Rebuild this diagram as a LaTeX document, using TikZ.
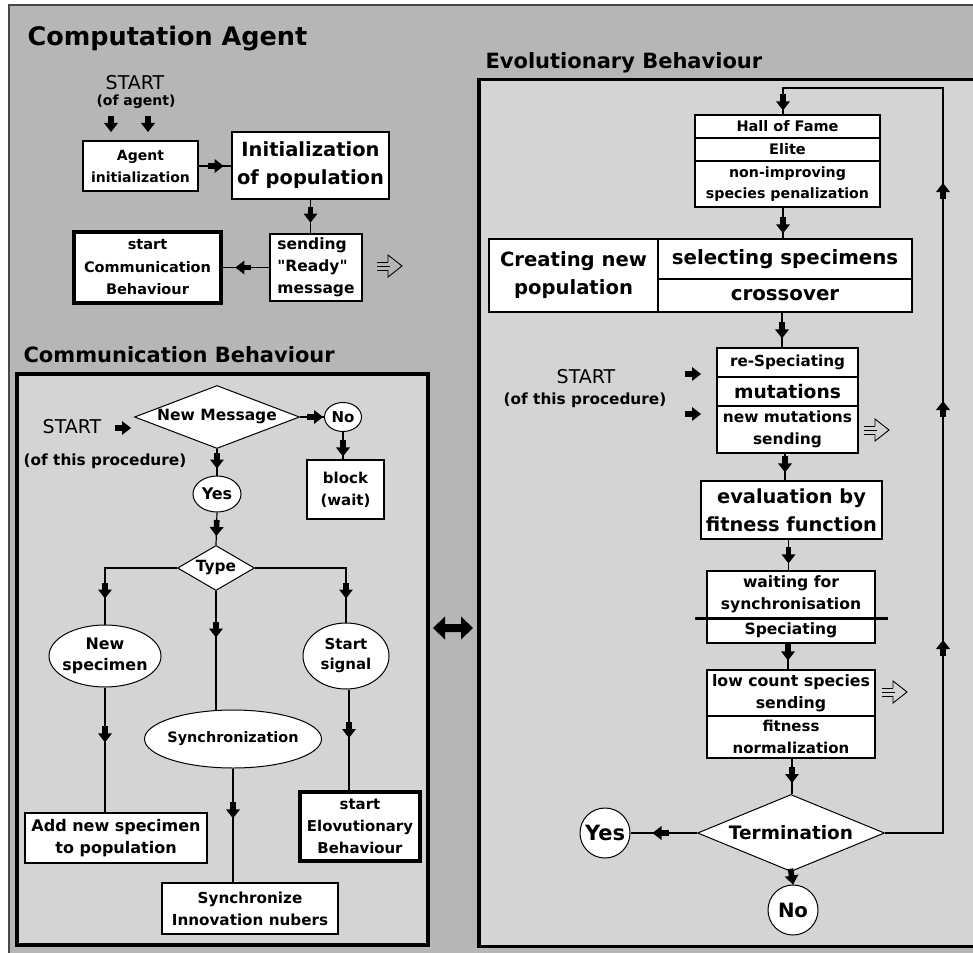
\documentclass[tikz,border=0pt]{standalone}
\usepackage{fontspec}
\setmainfont{DejaVu Sans}[Ligatures=TeXOff]
\usetikzlibrary{shapes.geometric,decorations.markings}

\definecolor{outerbg}{HTML}{B6B6B6}
\definecolor{panelbg}{HTML}{D4D4D4}
\definecolor{framegray}{HTML}{474747}

% small filled flow arrow, tip at the origin, pointing along +x
\newcommand{\flowhead}{\fill (1,0) -- (-8,-7) -- (-8,7) -- cycle; \fill (-15,-2.8) rectangle (-7.5,2.8);}

\tikzset{
  fb/.style 2 args={font=\fontsize{#1}{#2}\selectfont\bfseries},
  fr/.style 2 args={font=\fontsize{#1}{#2}\selectfont},
  box/.style={draw, fill=white, line width=1.2pt, inner sep=0pt, align=center},
  thickbox/.style={box, line width=4pt},
  shapebox/.style={draw, fill=white, line width=1pt, inner sep=0pt},
  conn/.style={line width=1.2pt},
  headat/.style={postaction={decorate,decoration={markings,mark=at position #1 with {\flowhead}}}},
  headglyph/.pic={\flowhead},
  sendmark/.pic={
    \draw[line width=0.9pt] (0,-4) -- (11,-4) (0,0) -- (13,0) (0,4) -- (11,4);
    \draw[line width=0.9pt, line join=miter] (11,-4) -- (11,-11) -- (25,0) -- (11,11) -- (11,4);
  },
  paneltitle/.style={fb={21}{25}, anchor=base west},
}

\begin{document}
\begin{tikzpicture}[x=1pt,y=-1pt]
\useasboundingbox (0,0) rectangle (973,952);
\clip (0,0) rectangle (973,952);
\fill[white] (0,0) rectangle (973,952);
\draw[framegray, line width=2pt, fill=outerbg] (9,5) rectangle (990,970);

% panels
\draw[line width=3.5pt, fill=panelbg] (17,374) rectangle (428,945);
\draw[line width=3.5pt, fill=panelbg] (479,79.5) rectangle (995,946.5);

% titles
\node[fb={25.5}{30}, anchor=base west] (agenttitle) at (24,46) {Computation Agent};
\node[paneltitle] (commtitle) at (20,362) {Communication Behaviour};
\node[paneltitle] (evotitle) at (482,69) {Evolutionary Behaviour};

% ---------------- agent start-up ----------------
\node[fr={19}{22}, anchor=base] (startA) at (135,90) {START};
\node[fb={14}{18}, anchor=base] (startAsub) at (136,106) {(of agent)};
\pic[rotate=-90] at (111,131) {headglyph};
\pic[rotate=-90] at (148,131) {headglyph};

\node[box, minimum width=115pt, minimum height=50pt, fb={14}{22}] (agentinit) at (140.5,166) {Agent\\initialization};
\node[box, minimum width=157pt, minimum height=67pt, fb={19.5}{28}] (initpop) at (310.5,165.5) {Initialization\\of population};
\node[box, minimum width=92pt, minimum height=67pt, fb={15.5}{22}, align=left] (sending) at (316,267.5) {sending\\"Ready"\\message};
\node[thickbox, minimum width=147pt, minimum height=71pt, fb={14.5}{22.5}] (startcomm) at (147.5,267.5) {start\\Communication\\Behaviour};
\pic at (377,266) {sendmark};

\draw[conn, headat=24pt] (agentinit.east) -- (agentinit.east -| initpop.west);
\draw[conn, headat=22pt] (initpop.south) -- (initpop.south |- sending.north);
\draw[conn, headat=33pt] (sending.west) -- (sending.west -| startcomm.east);

% ---------------- communication behaviour ----------------
\node[fr={19}{22}, anchor=base] (startC) at (72,433) {START};
\node[fb={15.3}{19}, anchor=base] (startCsub) at (105,465) {(of this procedure)};
\pic at (130,428) {headglyph};

\node[diamond, shapebox, minimum width=165pt, minimum height=63pt,
      label={[fb={15.5}{19}]center:New Message}] (newmsg) at (217,417) {};
\node[ellipse, shapebox, minimum width=37pt, minimum height=29pt,
      label={[fb={15}{18}]center:No}] (no1) at (343,417) {};
\node[box, minimum width=77pt, minimum height=59pt, fb={15}{22}] (block) at (345.5,489.5) {block\\(wait)};
\node[ellipse, shapebox, minimum width=48pt, minimum height=36pt,
      label={[fb={16}{19}]center:Yes}] (yes1) at (217,494) {};
\node[diamond, shapebox, minimum width=77pt, minimum height=45pt,
      label={[fb={15.4}{19}]center:Type}] (type) at (216,568) {};
\node[ellipse, shapebox, minimum width=112pt, minimum height=62pt,
      label={[fb={15.9}{21}, align=center]center:New\\specimen}] (newspec) at (105,656) {};
\node[ellipse, shapebox, minimum width=86pt, minimum height=66pt,
      label={[fb={15}{20}, align=center]center:Start\\signal}] (startsig) at (346,656) {};
\node[ellipse, shapebox, minimum width=177pt, minimum height=58pt,
      label={[fb={14.4}{18}]center:Synchronization}] (synchro) at (233,739) {};
\node[box, minimum width=182pt, minimum height=50pt, fb={16}{22}] (addnew) at (116,838) {Add new specimen\\to population};
\node[box, minimum width=176pt, minimum height=51pt, fb={15.2}{22}] (syncinno) at (250,908.5) {Synchronize\\Innovation nubers};
\node[thickbox, minimum width=120pt, minimum height=69pt, fb={14.9}{22}] (startevo) at (360,826.5) {start\\Elovutionary\\Behaviour};

\draw[conn, headat=-2pt] (newmsg.east) -- (no1.west);
\draw[conn, headat=-4pt] (no1.south) -- (no1.south |- block.north);
\draw[conn, headat=-8pt] (newmsg.south) -- (yes1.north);
\draw[conn, headat=-10pt] (yes1.south) -- (type.north);
\draw[conn, headat=-27pt] (type.west) -| (newspec.north);
\draw[conn, headat=-25pt] (type.east) -| (startsig.north);
\draw[conn, headat=-73pt] (type.south) -- (type.south |- synchro.north);
\draw[conn, headat=-71pt] (newspec.south) -- (newspec.south |- addnew.north);
\draw[conn, headat=-65pt] (synchro.south) -- (synchro.south |- syncinno.north);
\draw[conn, headat=-53pt] ([xshift=3pt]startsig.south) -- ([xshift=3pt]startsig.south |- startevo.north);

% link between the two behaviours
\fill (433,628) -- (445,616.5) -- (445,624) -- (461,624) -- (461,616.5) -- (473,628)
      -- (461,639.5) -- (461,632) -- (445,632) -- (445,639.5) -- cycle;

% ---------------- evolutionary behaviour ----------------
\coordinate (spine) at (783,0);
\coordinate (loopcorner) at (943,88);

\node[box, minimum width=185pt, minimum height=23pt, fb={14.5}{20}] (hof1) at (787.5,126.5) {Hall of Fame};
\node[box, minimum width=185pt, minimum height=23pt, fb={14.5}{20}] (hof2) at (787.5,149.5) {Elite};
\node[box, minimum width=185pt, minimum height=46pt, fb={14.2}{21}] (hof3) at (787.5,184) {non-improving\\species penalization};

\node[box, minimum width=169pt, minimum height=73pt, fb={19.6}{28}, line width=1.6pt] (creating) at (573.5,275.5) {Creating new\\population};
\node[box, minimum width=254pt, minimum height=40pt, fb={19.8}{24}] (select) at (785,259) {selecting specimens};
\node[box, minimum width=254pt, minimum height=33pt, fb={19.8}{24}] (crossover) at (785,295.5) {crossover};

\node[fr={19}{22}, anchor=base] (startE) at (586,383) {START};
\node[fb={15.3}{19}, anchor=base] (startEsub) at (585,404) {(of this procedure)};
\pic at (700,374) {headglyph};
\pic at (700,414) {headglyph};

\node[box, minimum width=141pt, minimum height=29pt, fb={15.2}{20}] (resp) at (787.5,362.5) {re-Speciating};
\node[box, minimum width=141pt, minimum height=29pt, fb={18.7}{22}] (mut) at (787.5,391.5) {mutations};
\node[box, minimum width=141pt, minimum height=47pt, fb={15.4}{22}] (nms) at (787.5,429.5) {new mutations\\sending};
\pic at (864,430) {sendmark};

\node[box, minimum width=181pt, minimum height=58pt, fb={19.4}{28}] (eval) at (791.5,510) {evaluation by\\fitness function};

\node[box, minimum width=168pt, minimum height=47pt, fb={15.6}{22}] (waitu) at (791,594.5) {waiting for\\synchronisation};
\node[box, minimum width=168pt, minimum height=25pt, fb={15.5}{20}] (spec) at (791,630.5) {Speciating};
\draw[line width=2.8pt] ([xshift=-11pt]waitu.south west) -- ([xshift=12pt]waitu.south east);

\node[box, minimum width=168pt, minimum height=46pt, fb={15.75}{22}] (low) at (791,693) {low count species\\sending};
\node[box, minimum width=168pt, minimum height=42pt, fb={15}{22}] (fitn) at (791,737) {fitness\\normalization};
\pic at (882,692) {sendmark};

\node[diamond, shapebox, minimum width=187pt, minimum height=77pt,
      label={[fb={18.5}{22}]center:Termination}] (term) at (791,833) {};
\node[ellipse, shapebox, minimum width=50pt, minimum height=50pt,
      label={[fb={21}{24}]center:Yes}] (yesE) at (605,833) {};
\node[ellipse, shapebox, minimum width=50pt, minimum height=50pt,
      label={[fb={19.7}{24}]center:No}] (noE) at (793,910) {};

\draw[conn, headat=-6pt] (hof3.south -| spine) -- (select.north -| spine);
\draw[conn, headat=-10pt] ([xshift=-3pt]crossover.south) -- ([xshift=-3pt]crossover.south |- resp.north);
\draw[conn, headat=-9pt] ([xshift=-2.5pt]nms.south) -- ([xshift=-2.5pt]nms.south |- eval.north);
\draw[conn, headat=-8pt] ([xshift=-3pt]eval.south) -- ([xshift=-3pt]eval.south |- waitu.north);
\draw[conn, headat=-10pt] ([xshift=-3pt]spec.south) -- ([xshift=-3pt]spec.south |- low.north);
\draw[conn, headat=-12pt] ([xshift=1pt]fitn.south) -- ([xshift=1pt]fitn.south |- term.north);
\draw[conn, headat=-23pt] (term.west) -- (yesE.east);
\draw[conn, headat=-1pt] (term.south) -- (noE.north);

% repeat loop back to the top of the cycle
\draw[conn, decoration={markings,
        mark=at position 250pt with {\flowhead},
        mark=at position 489pt with {\flowhead},
        mark=at position 707pt with {\flowhead},
        mark=at position -5pt with {\flowhead}}, postaction={decorate}]
  (term.east) -| (loopcorner) -| (hof1.north -| spine);
\end{tikzpicture}
\end{document}
